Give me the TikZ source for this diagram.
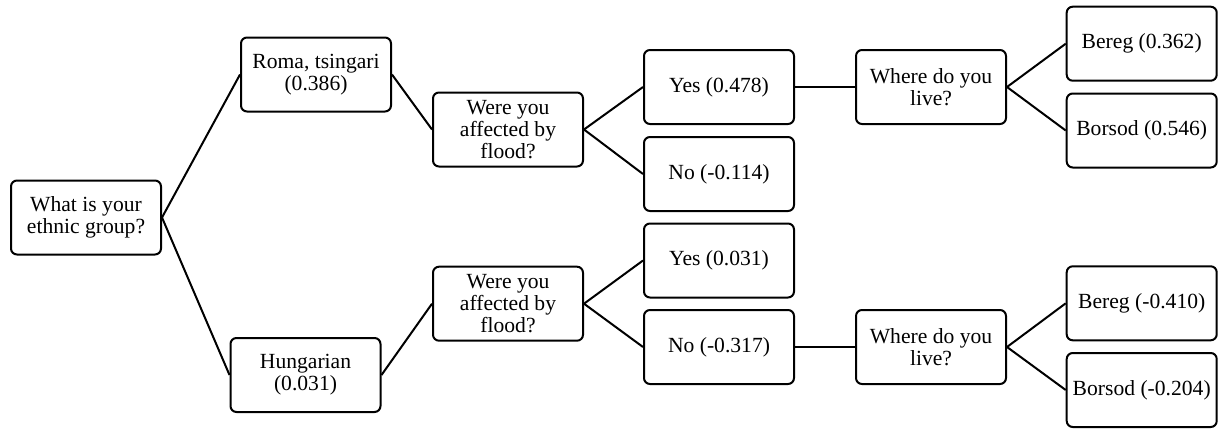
\documentclass[tikz,border=0pt]{standalone}
\usepackage{fontspec}
\setmainfont{Liberation Serif}
\usepackage{tikz}

\tikzset{
  qbox/.style={draw, line width=1pt, rounded corners=3pt, align=center,
    minimum width=75pt, minimum height=37pt, inner sep=1pt,
    font=\fontsize{10.8}{11}\selectfont},
  branch/.style={line width=1pt}
}

\begin{document}
\begin{tikzpicture}[x=0.5pt,y=-0.5pt]
\useasboundingbox (0,0) rectangle (1218,428);
\node[qbox] (E) at (86,217.5) {What is your\\ethnic group?};
\node[qbox] (R) at (316,74.5) {Roma, tsingari\\(0.386)};
\node[qbox] (H) at (305.5,375) {Hungarian\\(0.031)};
%first question on flood
\node[qbox] (RF) at (508,129.5) {Were you\\affected by\\flood?};
\node[qbox] (HF) at (508,303.7) {Were you\\affected by\\flood?};
\node[qbox] (RY) at (719,87) {Yes (0.478)};
\node[qbox] (RN) at (719,174) {No (-0.114)};
\node[qbox] (HY) at (719,260.5) {Yes (0.031)};
\node[qbox] (HN) at (719,347) {No (-0.317)};
%where do you live
\node[qbox] (RL) at (931,87) {Where do you\\live?};
\node[qbox] (HL) at (931,347) {Where do you\\live?};
\node[qbox] (RB) at (1141.7,43.7) {Bereg (0.362)};
\node[qbox] (RS) at (1141.7,130.5) {Borsod (0.546)};
\node[qbox] (HB) at (1141.7,303.3) {Bereg (-0.410)};
\node[qbox] (HS) at (1141.7,390) {Borsod (-0.204)};
\draw[branch] (E.east)--(R.west);
\draw[branch] (E.east)--(H.west);
\draw[branch] (R.east)--(RF.west);
\draw[branch] (H.east)--(HF.west);
\draw[branch] (RF.east)--(RY.west);
\draw[branch] (RF.east)--(RN.west);
\draw[branch] (HF.east)--(HY.west);
\draw[branch] (HF.east)--(HN.west);
\draw[branch] (RY.east)--(RL.west);
\draw[branch] (HN.east)--(HL.west);
\draw[branch] (RL.east)--(RB.west);
\draw[branch] (RL.east)--(RS.west);
\draw[branch] (HL.east)--(HB.west);
\draw[branch] (HL.east)--(HS.west);
\end{tikzpicture}
\end{document}
